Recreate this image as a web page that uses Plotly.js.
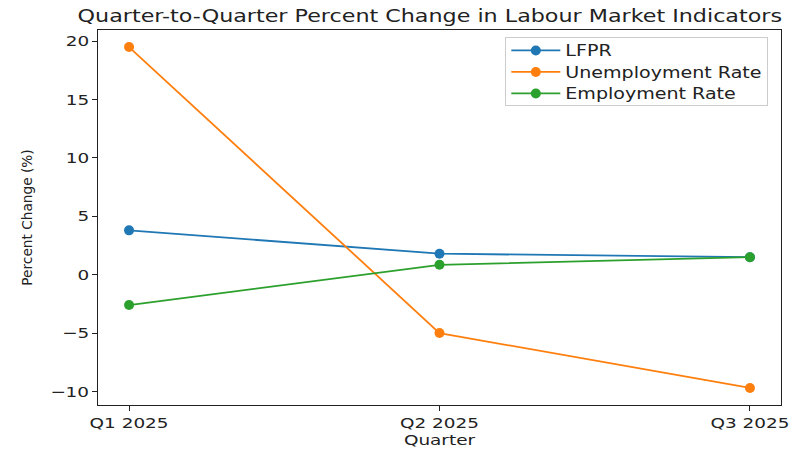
<!DOCTYPE html>
<html><head><meta charset="utf-8">
<script src="https://cdn.plot.ly/plotly-3.0.1.min.js"></script>
<style>html,body{margin:0;padding:0;background:#fff}#chart{width:811px;height:451px}</style>
</head><body><div id="chart"></div>
<script>
const quarters = ["Q1 2025", "Q2 2025", "Q3 2025"];
const lfpr = [3.8, 1.8, 1.5];
const unemployment = [19.5, -5.0, -9.7];
const employment = [-2.6, 0.85, 1.5];
const seriesNames = ["LFPR", "Unemployment Rate", "Employment Rate"];
const colors = ["#1f77b4", "#ff7f0e", "#2ca02c"];
const xs = [0, 1, 2];

const traces = [lfpr, unemployment, employment].map((vals, i) => ({
  x: xs, y: vals, name: seriesNames[i], type: "scatter", mode: "lines+markers",
  line: {color: colors[i], width: 1.8},
  marker: {color: colors[i], size: 10}
}));

const FF = "DejaVu Sans, sans-serif";
const layout = {
  width: 811, height: 451,
  margin: {l: 98, r: 30, t: 30, b: 46},
  paper_bgcolor: "#fff", plot_bgcolor: "#fff",
  font: {family: FF, color: "#222", size: 14.5},
  title: {text: "Quarter-to-Quarter Percent Change in Labour Market Indicators",
    font: {family: FF, size: 17.5, color: "#222"},
    x: 0.530, xanchor: "center", y: 0.965, yanchor: "middle"},
  xaxis: {
    range: [-0.1, 2.1], tickvals: xs, ticktext: quarters,
    showgrid: false, zeroline: false, showline: true, mirror: true,
    linecolor: "#222", linewidth: 1, ticks: "outside", ticklen: 5, tickcolor: "#222",
    title: {text: "Quarter", font: {size: 14.5}, standoff: 4}
  },
  yaxis: {
    range: [-11.16, 20.96], tickvals: [-10, -5, 0, 5, 10, 15, 20],
    ticktext: ["−10", "−5", "0", "5", "10", "15", "20"],
    showgrid: false, zeroline: false, showline: true, mirror: true,
    linecolor: "#222", linewidth: 1, ticks: "outside", ticklen: 5, tickcolor: "#222",
    title: {text: "Percent Change (%)", font: {size: 13.7}, standoff: 22}
  },
  legend: {
    x: 0.981, y: 0.981, xanchor: "right", yanchor: "top",
    bgcolor: "rgba(255,255,255,0.8)", bordercolor: "#ccc", borderwidth: 1,
    font: {size: 15, family: FF, color: "#222"},
    tracegroupgap: 0, itemwidth: 49
  },
  showlegend: true
};
const SX = 1.27;
function stretch(el) {
  const w = el.getComputedTextLength();
  el.setAttribute("textLength", (w * SX).toFixed(1));
  el.setAttribute("lengthAdjust", "spacingAndGlyphs");
  return w * (SX - 1);
}
Plotly.newPlot("chart", traces, layout, {displayModeBar: false, staticPlot: true}).then(gd => {
  gd.querySelectorAll(".xtick text, .ytick text, .gtitle, .g-xtitle text").forEach(stretch);
  let extra = 0;
  gd.querySelectorAll(".legend .legendtext").forEach(t => { extra = Math.max(extra, stretch(t)); });
  const leg = gd.querySelector(".legend");
  leg.querySelectorAll("[clip-path]").forEach(e => e.removeAttribute("clip-path"));
  // tighten row spacing
  const items = leg.querySelectorAll("g.traces");
  let y0 = null;
  items.forEach((g, i) => {
    const m = /translate\(([-\d.]+)[ ,]+([-\d.]+)\)/.exec(g.getAttribute("transform") || "");
    if (!m) return;
    if (y0 === null) y0 = parseFloat(m[2]);
    g.setAttribute("transform", `translate(${m[1]},${(y0 - 4 + i * 21.5).toFixed(1)})`);
  });
  const bg = leg.querySelector("rect.bg");
  if (bg) {
    const w = parseFloat(bg.getAttribute("width"));
    bg.setAttribute("width", (w + extra).toFixed(1));
    bg.setAttribute("height", "68");
    const m = /translate\(([-\d.]+)[ ,]+([-\d.]+)\)/.exec(leg.getAttribute("transform"));
    if (m) leg.setAttribute("transform", `translate(${parseFloat(m[1]) - extra},${m[2]})`);
  }
});
</script></body></html>
